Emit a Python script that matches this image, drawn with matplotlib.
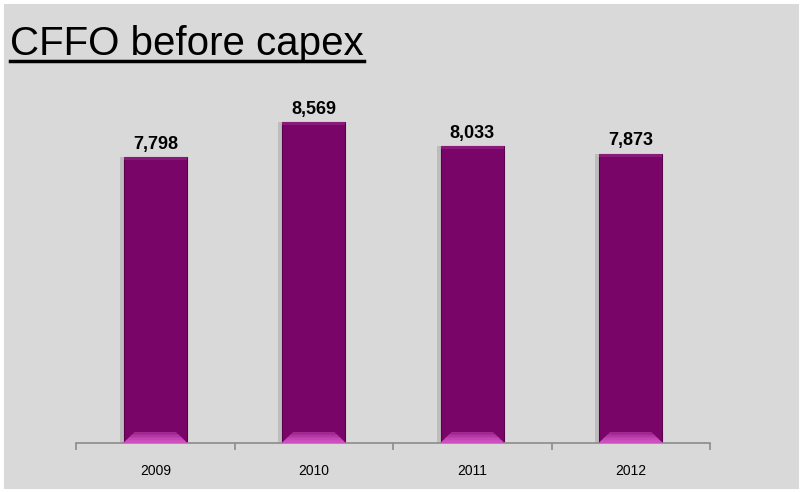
import matplotlib.pyplot as plt
from matplotlib.patches import Rectangle, Polygon
from matplotlib.lines import Line2D
import numpy as np

# data
years = ["2009", "2010", "2011", "2012"]
cffo = [7798, 8569, 8033, 7873]

BAR_COLOR = "#790568"
BG = "#D9D9D9"

plt.rcParams["font.family"] = ["Liberation Sans", "DejaVu Sans"]

fig = plt.figure(figsize=(8.02, 4.92), dpi=100)
fig.patch.set_facecolor(BG)

# white frame on the outer edge
fig.patches.append(Rectangle((0, 0), 1, 1, transform=fig.transFigure,
                             fill=False, edgecolor="white", linewidth=5, zorder=10))

ax = fig.add_axes([0.0948, 0.0996, 0.7905, 0.74])
ax.set_facecolor(BG)

x = np.arange(len(years))
width = 0.4
ymin = 1500
ax.set_xlim(-0.5, len(years) - 0.5)
ax.set_ylim(ymin, 1500 + 0.74 * 492 / 0.0454)

# soft shadow on the left
ax.bar(x - 0.212, [v - ymin for v in cffo], width=0.025, bottom=ymin,
       color="#BDBDBD", zorder=1)
bars = ax.bar(x, [v - ymin for v in cffo], width=width, bottom=ymin,
              color=BAR_COLOR, edgecolor="#5A004C", linewidth=0.8, zorder=2)

# bevel at the bottom of each bar
px = (len(years)) / (0.7905 * 802)      # data units per pixel in x
py = (ax.get_ylim()[1] - ymin) / (0.74 * 492)
for b in bars:
    x0 = b.get_x()
    x1 = x0 + b.get_width()
    bev = 11
    for i, c in enumerate(["#A02890", "#B436A4", "#C445B5", "#CC50BD"]):
        h = bev * (1 - i / 4.0)
        poly = Polygon([(x0, ymin), (x1, ymin),
                        (x1 - h * px, ymin + h * py), (x0 + h * px, ymin + h * py)],
                       closed=True, facecolor=c, edgecolor="none", zorder=3)
        ax.add_patch(poly)
    # top highlight
    ax.add_patch(Rectangle((x0, b.get_y() + b.get_height() - 3 * py), b.get_width(), 3 * py,
                           facecolor="#8A1A7A", edgecolor="none", zorder=3))

for xi, v in zip(x, cffo):
    ax.annotate(f"{v:,}", (xi, v), xytext=(0, 3), textcoords="offset points",
                ha="center", va="bottom", fontsize=13, fontweight="bold", color="black")

for s in ["top", "right", "left"]:
    ax.spines[s].set_visible(False)
ax.spines["bottom"].set_color("#8C8C8C")
ax.spines["bottom"].set_linewidth(1.2)

ax.set_yticks([])
ax.set_xticks(x)
ax.set_xticklabels(years, fontsize=10)
ax.tick_params(axis="x", which="major", length=0, pad=15)
ax.set_xticks(np.arange(-0.5, len(years)), minor=True)
ax.tick_params(axis="x", which="minor", length=5, color="#8C8C8C", width=1.2)

# title with underline
title = fig.text(0.0125, 0.889, "CFFO before capex", fontsize=29, color="black",
                 ha="left", va="baseline")
fig.canvas.draw()
bb = title.get_window_extent().transformed(fig.transFigure.inverted())
fig.add_artist(Line2D([bb.x0, bb.x1], [0.876, 0.876], transform=fig.transFigure,
                      color="black", linewidth=2.5))

fig.savefig("out.png", dpi=100, facecolor=fig.get_facecolor())
